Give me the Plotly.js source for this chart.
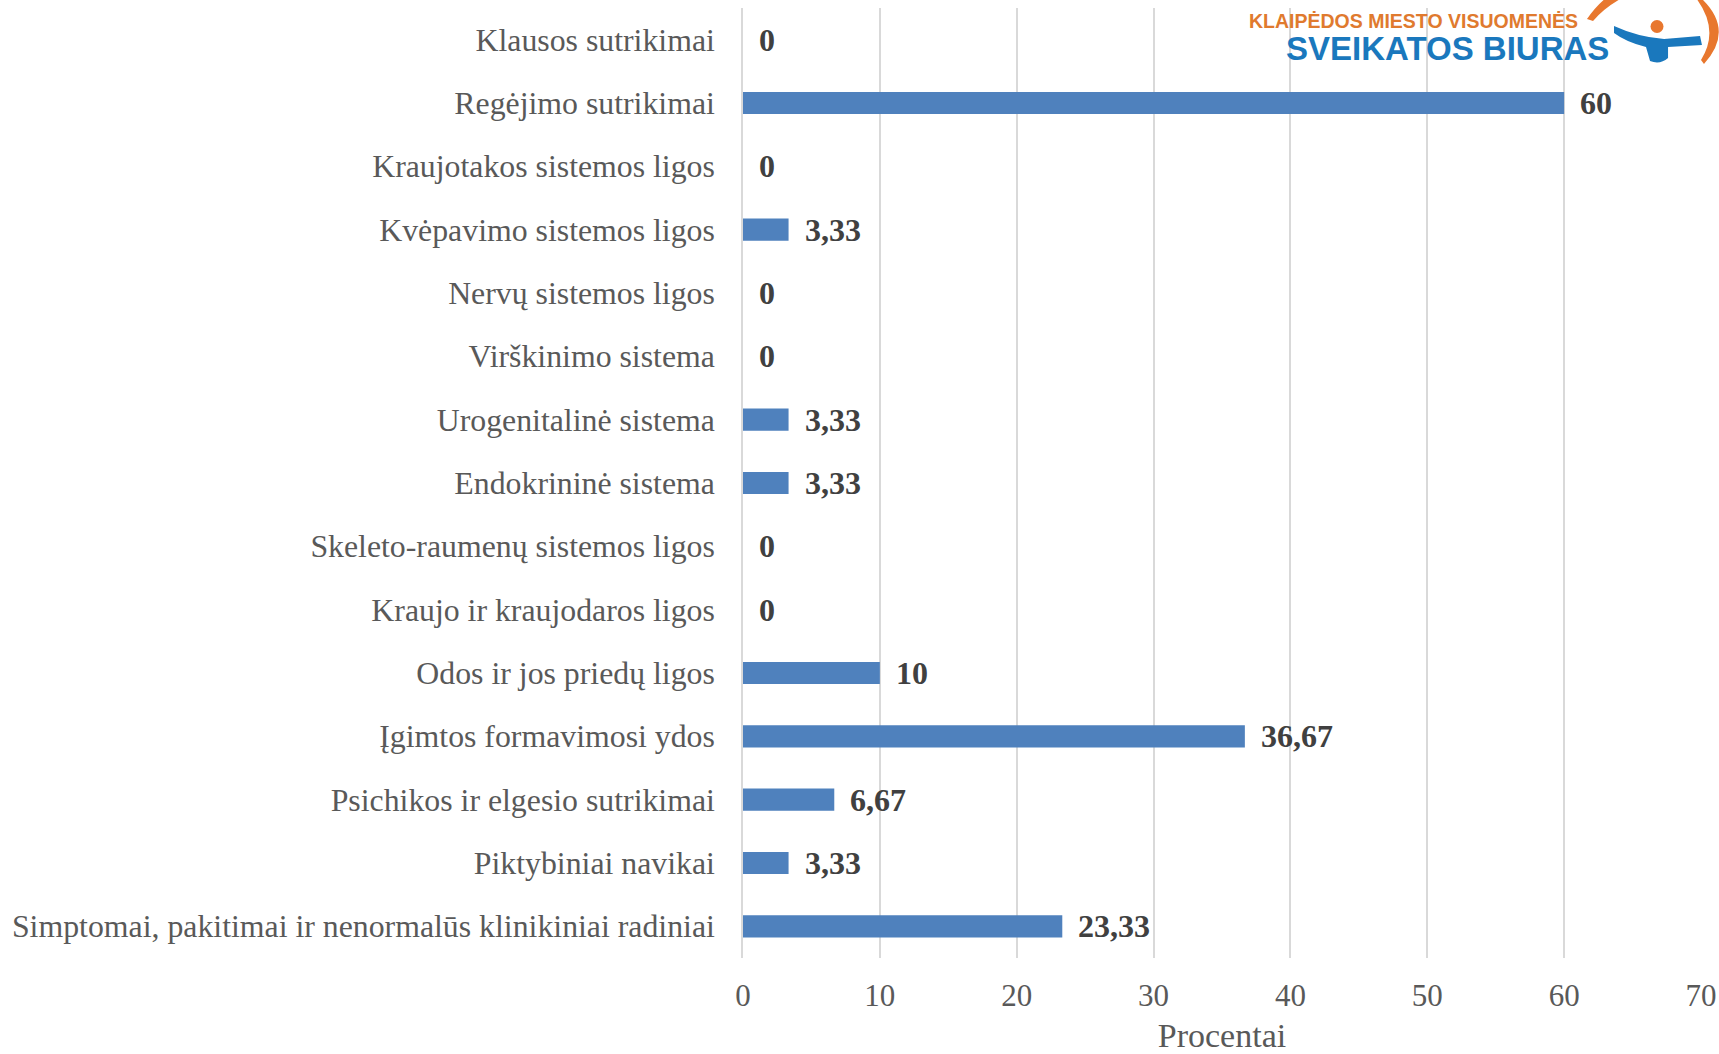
<!DOCTYPE html>
<html>
<head>
<meta charset="utf-8">
<script src="https://cdn.plot.ly/plotly-3.0.1.min.js"></script>
<style>body{margin:0;background:#fff}</style>
</head>
<body>
<div id="chart" style="width:1719px;height:1054px"></div>
<script>
var categories = [
  'Klausos sutrikimai',
  'Regėjimo sutrikimai',
  'Kraujotakos sistemos ligos',
  'Kvėpavimo sistemos ligos',
  'Nervų sistemos ligos',
  'Virškinimo sistema',
  'Urogenitalinė sistema',
  'Endokrininė sistema',
  'Skeleto-raumenų sistemos ligos',
  'Kraujo ir kraujodaros ligos',
  'Odos ir jos priedų ligos',
  'Įgimtos formavimosi ydos',
  'Psichikos ir elgesio sutrikimai',
  'Piktybiniai navikai',
  'Simptomai, pakitimai ir nenormalūs klinikiniai radiniai'
];
var values = [0, 60, 0, 3.33, 0, 0, 3.33, 3.33, 0, 0, 10, 36.67, 6.67, 3.33, 23.33];
var xTicks = [0, 10, 20, 30, 40, 50, 60, 70];

var labelFont = 'Liberation Serif, Times New Roman, serif';
var logoFont = 'Liberation Sans, Arial, sans-serif';

// page pixel -> paper coords (plot area 743..1701 x 8..958)
function P(X, Y) {
  return ((X - 743) / 958).toFixed(4) + ' ' + ((958 - Y) / 950).toFixed(4);
}

var trace = {
  type: 'bar',
  orientation: 'h',
  x: values,
  y: categories,
  marker: {color: '#4f81bd'},
  hoverinfo: 'x+y'
};

// value labels, Lithuanian decimal comma
var notes = values.map(function (v, i) {
  return {
    x: v, y: categories[i], xref: 'x', yref: 'y',
    text: String(v).replace('.', ','),
    showarrow: false, xanchor: 'left', xshift: 14, yshift: 0,
    font: {family: labelFont, size: 32, color: '#404040', weight: 'bold'}
  };
});

// logo text
notes.push({
  xref: 'paper', yref: 'paper', x: 0.526, y: 1.0, yshift: -13,
  xanchor: 'left', yanchor: 'middle', showarrow: false,
  text: '<b>KLAIPĖDOS MIESTO VISUOMENĖS</b>',
  font: {family: logoFont, size: 19.5, color: '#e07a2e'}
});
notes.push({
  xref: 'paper', yref: 'paper', x: 0.565, y: 1.0, yshift: -40,
  xanchor: 'left', yanchor: 'middle', showarrow: false,
  text: '<b>SVEIKATOS BIURAS</b>',
  font: {family: logoFont, size: 33, color: '#1a78bd'}
});

var layout = {
  width: 1719,
  height: 1054,
  margin: {l: 743, r: 18, t: 8, b: 96},
  paper_bgcolor: '#ffffff',
  plot_bgcolor: '#ffffff',
  bargap: 0.65,
  showlegend: false,
  font: {family: labelFont, color: '#595959'},
  xaxis: {
    range: [0, 70],
    tickvals: xTicks,
    ticktext: xTicks.map(String),
    showgrid: true,
    gridcolor: '#d9d9d9',
    gridwidth: 1.5,
    zeroline: false,
    showline: false,
    ticks: 'outside',
    ticklen: 10,
    tickcolor: 'rgba(0,0,0,0)',
    tickfont: {family: labelFont, size: 31, color: '#595959'},
    title: {text: 'Procentai', standoff: 18, font: {family: labelFont, size: 34, color: '#595959'}}
  },
  yaxis: {
    type: 'category',
    autorange: 'reversed',
    showgrid: false,
    zeroline: false,
    showline: true,
    linecolor: '#d9d9d9',
    linewidth: 1.5,
    ticks: 'outside',
    ticklen: 20,
    tickcolor: 'rgba(0,0,0,0)',
    tickfont: {family: labelFont, size: 31.8, color: '#595959'}
  },
  annotations: notes,
  shapes: [
    // orange ring pieces of the logo
    {type: 'path', xref: 'paper', yref: 'paper', layer: 'below',
     path: 'M ' + P(1587, 19) + ' Q ' + P(1596, 6) + ' ' + P(1606, -2) +
           ' L ' + P(1622, -2) + ' Q ' + P(1604, 8) + ' ' + P(1593, 21) + ' Z',
     fillcolor: '#e8772e', line: {width: 0}},
    {type: 'path', xref: 'paper', yref: 'paper', layer: 'below',
     path: 'M ' + P(1701, -2) + ' Q ' + P(1735, 30) + ' ' + P(1704, 64) +
           ' L ' + P(1701, 60) + ' Q ' + P(1720, 30) + ' ' + P(1696, -2) + ' Z',
     fillcolor: '#e8772e', line: {width: 0}},
    // blue figure
    {type: 'path', xref: 'paper', yref: 'paper', layer: 'below',
     path: 'M ' + P(1614, 26) + ' Q ' + P(1638, 37) + ' ' + P(1664, 39) +
           ' L ' + P(1700, 36) + ' L ' + P(1702, 45) + ' L ' + P(1668, 47) +
           ' L ' + P(1668, 58) + ' Q ' + P(1660, 65) + ' ' + P(1650, 61) +
           ' L ' + P(1646, 47) + ' Q ' + P(1626, 42) + ' ' + P(1614, 33) + ' Z',
     fillcolor: '#1a78bd', line: {width: 0}},
    // orange head
    {type: 'circle', xref: 'paper', yref: 'paper', layer: 'below',
     x0: (1650.5 - 743) / 958, x1: (1663.5 - 743) / 958,
     y0: (958 - 33) / 950, y1: (958 - 20) / 950,
     fillcolor: '#e8772e', line: {width: 0}}
  ]
};

Plotly.newPlot('chart', [trace], layout, {displayModeBar: false});
</script>
</body>
</html>
